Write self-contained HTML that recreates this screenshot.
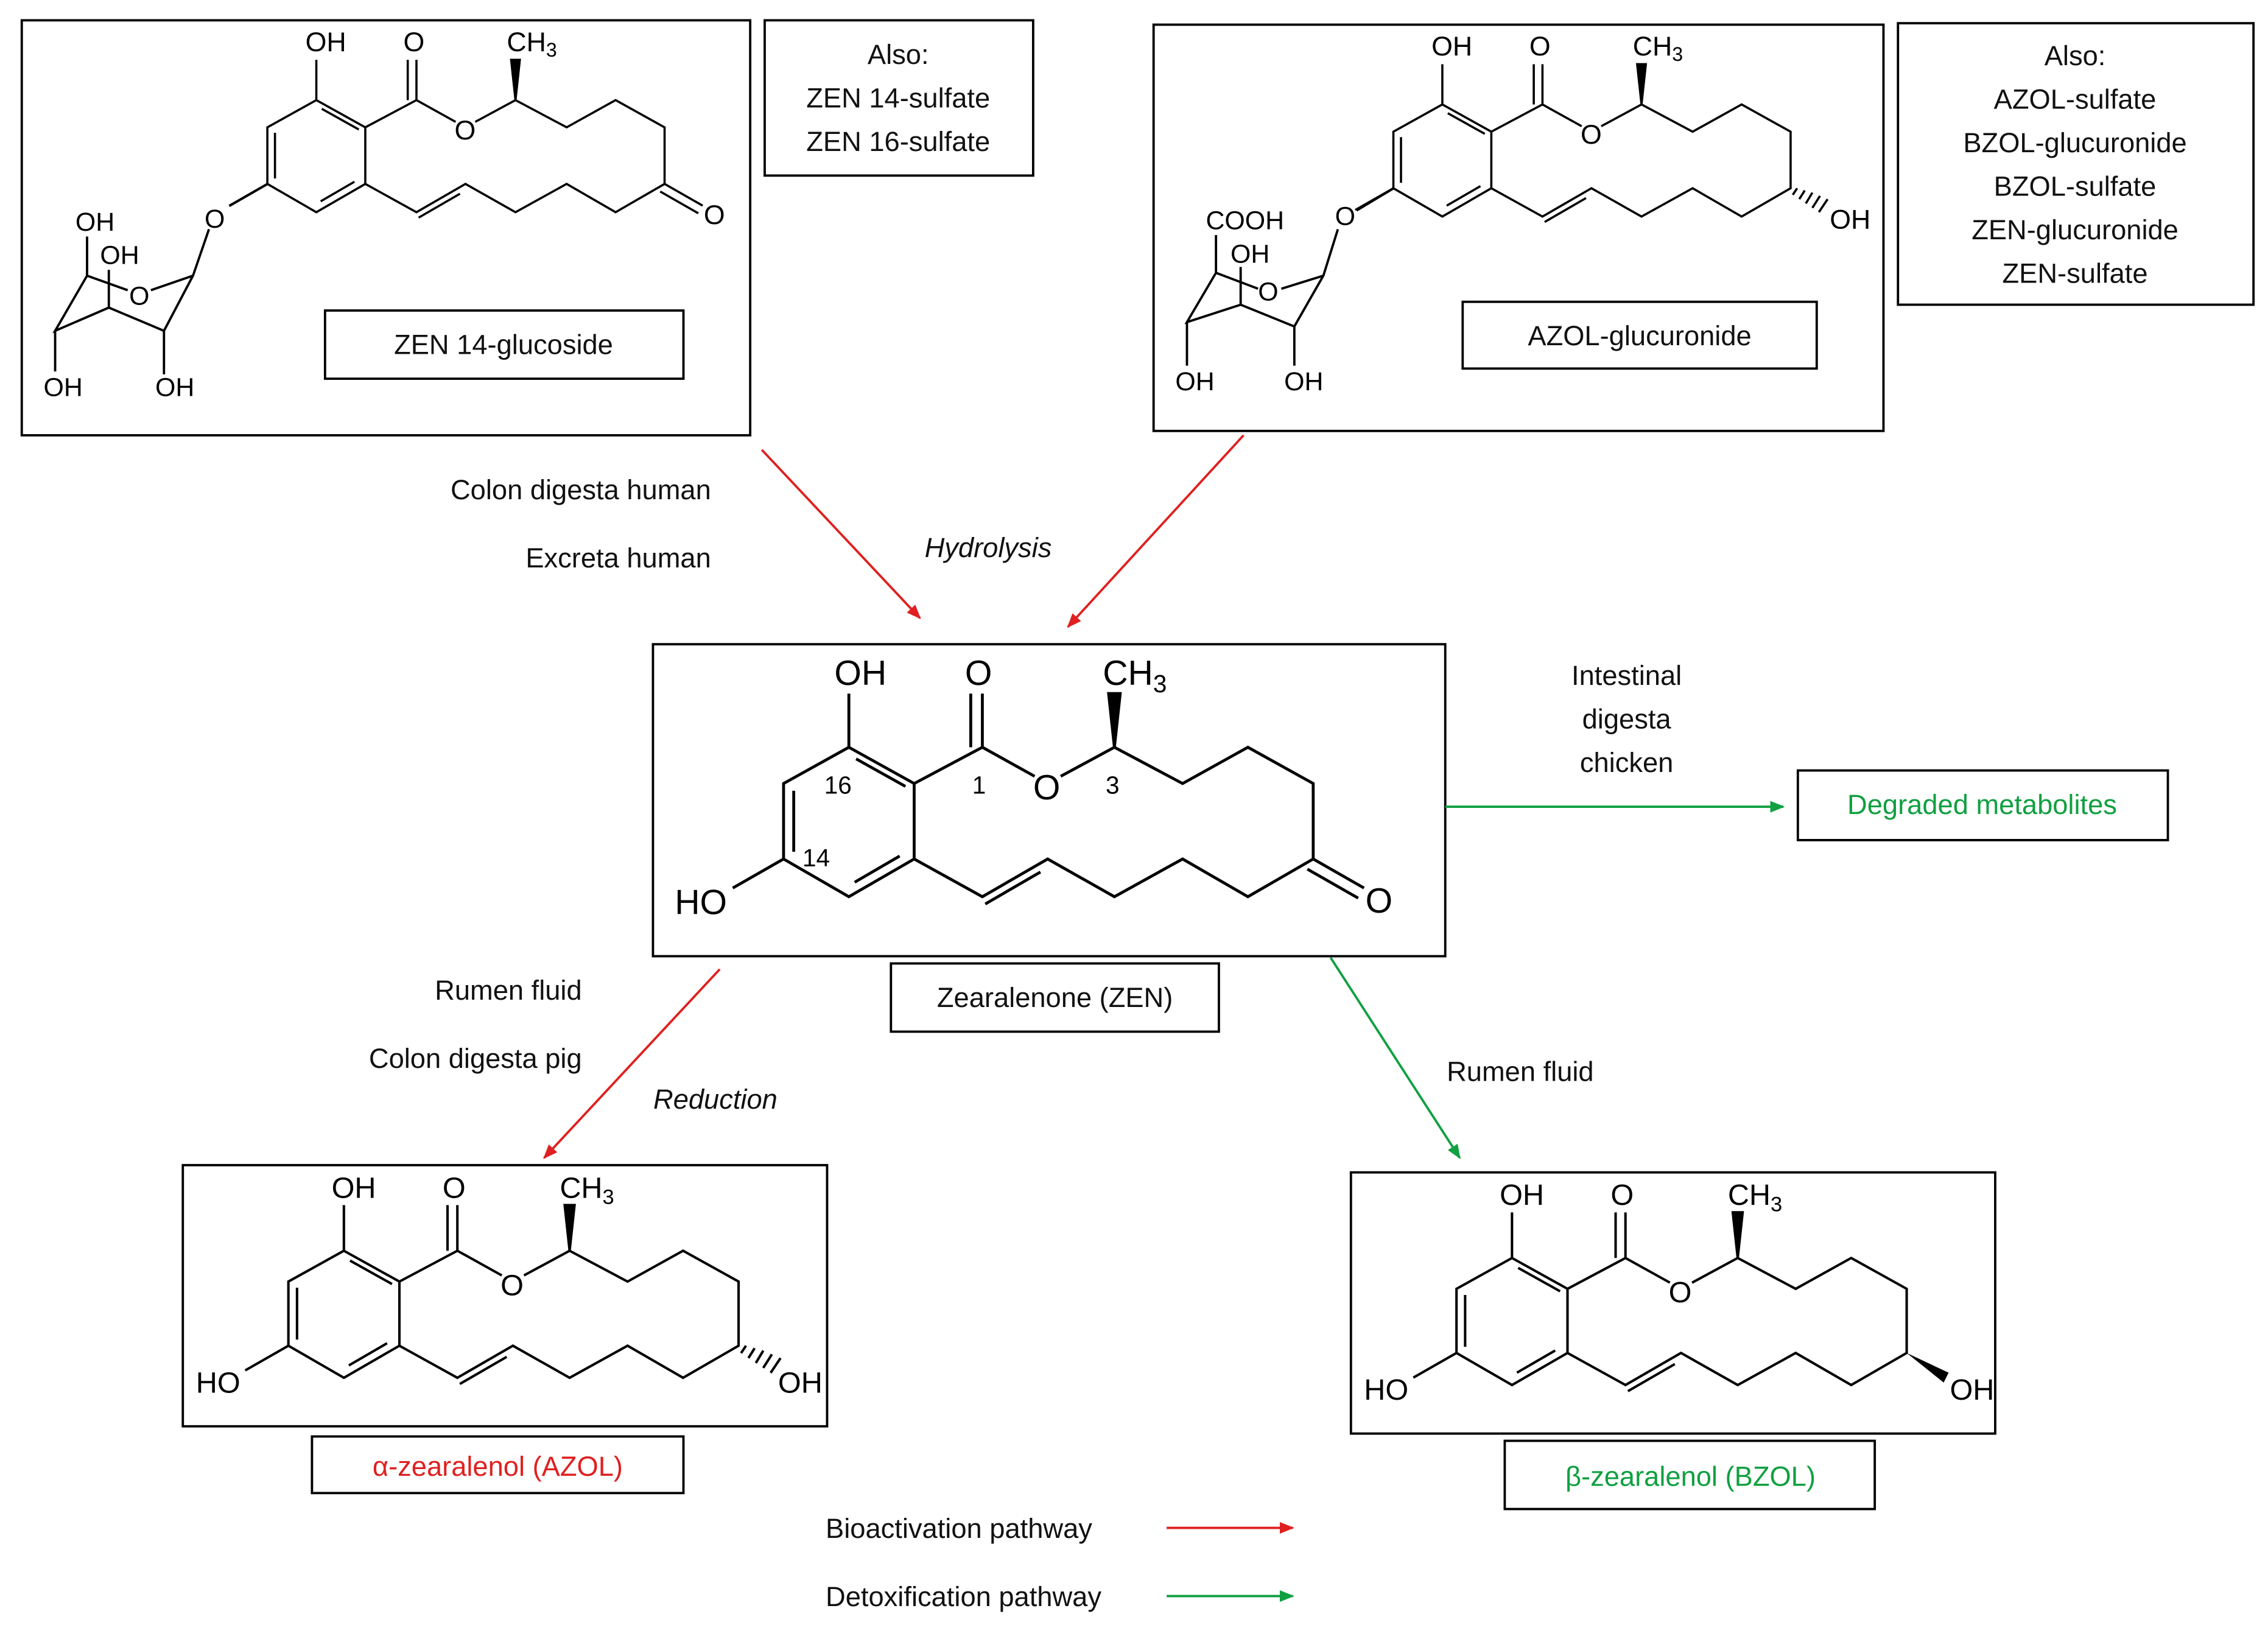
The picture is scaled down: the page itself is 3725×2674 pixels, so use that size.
<!DOCTYPE html>
<html><head><meta charset="utf-8"><style>
html,body{margin:0;padding:0;background:#fff;}
svg{display:block;}
text{font-family:"Liberation Sans",sans-serif;}
</style></head><body>
<svg width="3725" height="2674" viewBox="0 0 1563 1122" preserveAspectRatio="none" xmlns="http://www.w3.org/2000/svg">
<defs>
<marker id="ar" markerWidth="10" markerHeight="8" refX="9" refY="4" orient="auto" markerUnits="userSpaceOnUse"><path d="M0,0 L10,4 L0,8 Z" fill="#e02020"/></marker>
<marker id="ag" markerWidth="10" markerHeight="8" refX="9" refY="4" orient="auto" markerUnits="userSpaceOnUse"><path d="M0,0 L10,4 L0,8 Z" fill="#10a040"/></marker>
<g id="core" fill="none" stroke="#000" stroke-width="2">
<path d="M0,0 L45,25 L45,77 L0,103 L-45,77 L-45,25 Z"/>
<path d="M-38,30 L-38,72 M35,75 L4,93 M5,8 L39,27"/>
<path d="M0,0 L0,-37 M-45,77 L-80,97 M45,25 L92,0 M92,0 L92,-37 M84,0 L84,-37 M92,0 L128,20 M146,20 L183,0"/>
<path d="M183,0 L230,25 L275,0 L320,25 L320,77 L275,103 L230,77 L183,103 L137,77 L92,103 L45,77"/>
<path d="M132,86 L94,108"/>
<path d="M183,0 L179,-37 L187,-37 Z" fill="#000"/>
</g>
</defs>
<rect width="1563" height="1122" fill="#fff"/>

<g fill="none" stroke="#000" stroke-width="1.6">
<rect x="15" y="14" width="502" height="286"/>
<rect x="527" y="14" width="185" height="107"/>
<rect x="224" y="214" width="247" height="47"/>
<rect x="795" y="17" width="503" height="280"/>
<rect x="1308" y="16" width="245" height="194"/>
<rect x="1008" y="208" width="244" height="46"/>
<rect x="450" y="444" width="546" height="215"/>
<rect x="614" y="664" width="226" height="47"/>
<rect x="1239" y="531" width="255" height="48"/>
<rect x="126" y="803" width="444" height="180"/>
<rect x="215" y="990" width="256" height="39"/>
<rect x="931" y="808" width="444" height="180"/>
<rect x="1037" y="993" width="255" height="47"/>
</g>

<g transform="translate(585,515)">
<use href="#core"/>
<path d="M320,77 L355,97 M316,84 L351,104" stroke="#000" stroke-width="2" fill="none"/>
<g font-size="24" fill="#000">
<text x="-10" y="-43">OH</text><text x="80" y="-43">O</text><text x="175" y="-43">CH<tspan font-size="17" dy="5">3</tspan></text>
<text x="127" y="36">O</text><text x="-120" y="115">HO</text><text x="356" y="114">O</text>
<text x="-17" y="32" font-size="17">16</text><text x="-32" y="82" font-size="17">14</text>
<text x="85" y="32" font-size="17">1</text><text x="177" y="32" font-size="17">3</text>
</g></g>

<g transform="translate(237,862) scale(0.85)">
<use href="#core"/>
<path d="M322,83 L326,77 M328,87 L333,79 M334,91 L340,81 M340,95 L347,84 M346,99 L354,87" stroke="#000" stroke-width="2"/>
<g font-size="24"><text x="-10" y="-43">OH</text><text x="80" y="-43">O</text><text x="175" y="-43">CH<tspan font-size="17" dy="5">3</tspan></text>
<text x="127" y="36">O</text><text x="-120" y="115">HO</text><text x="352" y="115">OH</text></g></g>

<g transform="translate(1042,867) scale(0.85)">
<use href="#core"/>
<path d="M320,77 L354,93 L350,101 Z" fill="#000"/>
<g font-size="24"><text x="-10" y="-43">OH</text><text x="80" y="-43">O</text><text x="175" y="-43">CH<tspan font-size="17" dy="5">3</tspan></text>
<text x="127" y="36">O</text><text x="-120" y="115">HO</text><text x="355" y="115">OH</text></g></g>

<g transform="translate(218,69) scale(0.75)">
<use href="#core"/>
<path d="M320,77 L355,97 M316,84 L351,104" stroke="#000" stroke-width="2" fill="none"/>
<g font-size="25"><text x="-10" y="-45">OH</text><text x="80" y="-45">O</text><text x="175" y="-45">CH<tspan font-size="18" dy="5">3</tspan></text>
<text x="127" y="36">O</text><text x="356" y="114">O</text></g></g>
<g fill="none" stroke="#000" stroke-width="1.6">
<path d="M184,127 L158,142 M144,158 L133,190 L113,228 L75,212 L38,228 L60,190 L88,200 M104,200 L133,190"/>
<path d="M113,228 L113,258 M38,228 L38,256 M60,190 L60,163 M75,212 L75,186"/>
</g>
<g font-size="18"><text x="141" y="157">O</text><text x="89" y="210">O</text>
<text x="52" y="159">OH</text><text x="69" y="182">OH</text><text x="30" y="273">OH</text><text x="107" y="273">OH</text></g>

<g transform="translate(994,72) scale(0.75)">
<use href="#core"/>
<path d="M322,83 L326,77 M328,87 L333,79 M334,91 L340,81 M340,95 L347,84 M346,99 L354,87" stroke="#000" stroke-width="2"/>
<g font-size="25"><text x="-10" y="-45">OH</text><text x="80" y="-45">O</text><text x="175" y="-45">CH<tspan font-size="18" dy="5">3</tspan></text>
<text x="127" y="36">O</text><text x="356" y="114">OH</text></g></g>
<g fill="none" stroke="#000" stroke-width="1.6">
<path d="M960,130 L935,145 M922,158 L912,190 L892,225 L855,210 L818,222 L838,188 L867,199 M883,199 L912,190"/>
<path d="M892,225 L892,252 M818,222 L818,252 M838,188 L838,162 M855,210 L855,184"/>
</g>
<g font-size="18"><text x="920" y="155">O</text><text x="867" y="207">O</text>
<text x="831" y="158">COOH</text><text x="848" y="181">OH</text><text x="810" y="269">OH</text><text x="885" y="269">OH</text></g>

<g stroke-width="1.6" fill="none">
<line x1="525" y1="310" x2="634" y2="426" stroke="#e02020" marker-end="url(#ar)"/>
<line x1="857" y1="300" x2="736" y2="432" stroke="#e02020" marker-end="url(#ar)"/>
<line x1="996" y1="556" x2="1229" y2="556" stroke="#10a040" marker-end="url(#ag)"/>
<line x1="496" y1="668" x2="375" y2="798" stroke="#e02020" marker-end="url(#ar)"/>
<line x1="917" y1="660" x2="1006" y2="798" stroke="#10a040" marker-end="url(#ag)"/>
<line x1="804" y1="1053" x2="891" y2="1053" stroke="#e02020" marker-end="url(#ar)"/>
<line x1="804" y1="1100" x2="891" y2="1100" stroke="#10a040" marker-end="url(#ag)"/>
</g>

<g font-size="19" fill="#111">
<g text-anchor="middle">
<text x="619" y="44">Also:</text><text x="619" y="74">ZEN 14-sulfate</text><text x="619" y="104">ZEN 16-sulfate</text>
<text x="1430" y="45">Also:</text><text x="1430" y="75">AZOL-sulfate</text><text x="1430" y="105">BZOL-glucuronide</text>
<text x="1430" y="135">BZOL-sulfate</text><text x="1430" y="165">ZEN-glucuronide</text><text x="1430" y="195">ZEN-sulfate</text>
<text x="347" y="244">ZEN 14-glucoside</text>
<text x="1130" y="238">AZOL-glucuronide</text>
<text x="727" y="694">Zearalenone (ZEN)</text>
<text x="1366" y="561" fill="#10a040">Degraded metabolites</text>
<text x="343" y="1017" fill="#e02020">α-zearalenol (AZOL)</text>
<text x="1165" y="1024" fill="#10a040">β-zearalenol (BZOL)</text>
<text x="1121" y="472">Intestinal</text><text x="1121" y="502">digesta</text><text x="1121" y="532">chicken</text>
<text x="681" y="384" font-style="italic">Hydrolysis</text>
<text x="493" y="764" font-style="italic">Reduction</text>
</g>
<g text-anchor="end">
<text x="490" y="344">Colon digesta human</text><text x="490" y="391">Excreta human</text>
<text x="401" y="689">Rumen fluid</text><text x="401" y="736">Colon digesta pig</text>
</g>
<text x="997" y="745">Rumen fluid</text>
<text x="569" y="1060">Bioactivation pathway</text>
<text x="569" y="1107">Detoxification pathway</text>
</g>
</svg>
</body></html>
